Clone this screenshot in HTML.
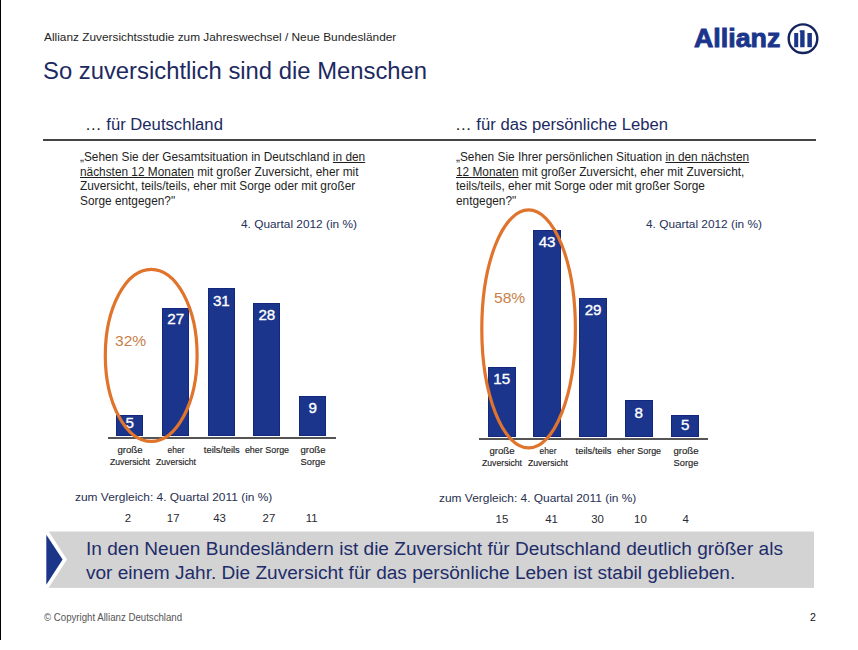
<!DOCTYPE html>
<html lang="de">
<head>
<meta charset="utf-8">
<style>
*{margin:0;padding:0;box-sizing:border-box}
html,body{width:858px;height:650px;overflow:hidden;background:#fff}
body{position:relative;font-family:"Liberation Sans",Arial,sans-serif;color:#222}
.a{position:absolute;white-space:nowrap}
u{text-decoration-thickness:1px;text-underline-offset:0.6px}
</style>
</head>
<body>
<div class="a" style="left:0;top:0;width:1px;height:640px;background:#000"></div>
<div class="a" style="left:44.30px;top:30.91px;font-size:11.4px;line-height:13.68px;color:#1e1e1e;transform:scaleX(1.04);transform-origin:0 0;">Allianz Zuversichtsstudie zum Jahreswechsel / Neue Bundesländer</div>
<div class="a" style="left:42.80px;top:56.96px;font-size:23.5px;line-height:28.2px;color:#1d2a5f;transform:scaleX(1.014);transform-origin:0 0;">So zuversichtlich sind die Menschen</div>
<div class="a" style="left:693.50px;top:22.92px;font-size:26.5px;line-height:31.8px;color:#1b358c;transform:scaleX(1.011);transform-origin:0 0;font-weight:bold;-webkit-text-stroke:0.9px #1b358c;">Allianz</div>
<svg class="a" style="left:786px;top:22px" width="34" height="34" viewBox="0 0 34 34">
  <circle cx="17" cy="16.7" r="14.3" fill="none" stroke="#13245e" stroke-width="2.4"/>
  <rect x="8.2" y="11" width="4" height="14.2" fill="#1b3589"/>
  <path d="M13.7 8.2 H18.6 V25.2 H14.2 V10.2 H13.7 Z" fill="#1b3589"/>
  <rect x="21.4" y="11" width="4.5" height="14.2" fill="#1b3589"/>
</svg>
<div class="a" style="left:84.80px;top:115.75px;font-size:15.8px;line-height:18.96px;color:#1d2a5f;transform:scaleX(1.054);transform-origin:0 0;"><span style="color:#222">…</span> für Deutschland</div>
<div class="a" style="left:455.20px;top:115.75px;font-size:15.8px;line-height:18.96px;color:#1d2a5f;transform:scaleX(1.055);transform-origin:0 0;"><span style="color:#222">…</span> für das persönliche Leben</div>
<div class="a" style="left:43px;top:139px;width:773px;height:2px;background:#444"></div>
<div class="a" style="left:80.00px;top:150.02px;font-size:12.2px;line-height:14.5px;color:#1e1e1e;transform:scaleX(0.972);transform-origin:0 0;">„Sehen Sie der Gesamtsituation in Deutschland <u>in den</u><br><u>nächsten 12 Monaten</u> mit großer Zuversicht, eher mit<br>Zuversicht, teils/teils, eher mit Sorge oder mit großer<br>Sorge entgegen?&quot;</div>
<div class="a" style="left:456.00px;top:150.02px;font-size:12.2px;line-height:14.5px;color:#1e1e1e;transform:scaleX(0.972);transform-origin:0 0;">„Sehen Sie Ihrer persönlichen Situation <u>in den nächsten</u><br><u>12 Monaten</u> mit großer Zuversicht, eher mit Zuversicht,<br>teils/teils, eher mit Sorge oder mit großer Sorge<br>entgegen?&quot;</div>
<div class="a" style="left:241.00px;top:218.32px;font-size:11.5px;line-height:13.8px;color:#25305a;transform:scaleX(1.03);transform-origin:0 0;">4. Quartal 2012 (in %)</div>
<div class="a" style="left:646.00px;top:218.32px;font-size:11.5px;line-height:13.8px;color:#25305a;transform:scaleX(1.03);transform-origin:0 0;">4. Quartal 2012 (in %)</div>
<div class="a" style="left:108px;top:437px;width:228px;height:2px;background:#555"></div>
<div class="a" style="left:116.0px;top:415.0px;width:27.3px;height:20.7px;background:#1b358c;box-shadow:inset 0 0 0 1px #13287a"></div>
<div class="a" style="left:109.65px;top:413.50px;font-size:15.2px;line-height:18.24px;color:#fff;width:40px;text-align:center;-webkit-text-stroke:0.35px #fff;">5</div>
<div class="a" style="left:162.0px;top:307.5px;width:27.3px;height:128.2px;background:#1b358c;box-shadow:inset 0 0 0 1px #13287a"></div>
<div class="a" style="left:155.65px;top:310.30px;font-size:15.2px;line-height:18.24px;color:#fff;width:40px;text-align:center;-webkit-text-stroke:0.35px #fff;">27</div>
<div class="a" style="left:207.7px;top:288.1px;width:27.3px;height:147.6px;background:#1b358c;box-shadow:inset 0 0 0 1px #13287a"></div>
<div class="a" style="left:201.35px;top:291.60px;font-size:15.2px;line-height:18.24px;color:#fff;width:40px;text-align:center;-webkit-text-stroke:0.35px #fff;">31</div>
<div class="a" style="left:253.2px;top:302.9px;width:27.3px;height:132.8px;background:#1b358c;box-shadow:inset 0 0 0 1px #13287a"></div>
<div class="a" style="left:246.85px;top:305.60px;font-size:15.2px;line-height:18.24px;color:#fff;width:40px;text-align:center;-webkit-text-stroke:0.35px #fff;">28</div>
<div class="a" style="left:299.0px;top:395.9px;width:27.3px;height:39.8px;background:#1b358c;box-shadow:inset 0 0 0 1px #13287a"></div>
<div class="a" style="left:292.65px;top:399.00px;font-size:15.2px;line-height:18.24px;color:#fff;width:40px;text-align:center;-webkit-text-stroke:0.35px #fff;">9</div>
<div class="a" style="left:95.15px;top:443.70px;font-size:9.4px;line-height:11.28px;color:#1e1e1e;width:70px;text-align:center;transform:scaleX(1.03);transform-origin:50% 0;-webkit-text-stroke:0.15px #1e1e1e;">große</div>
<div class="a" style="left:95.15px;top:456.00px;font-size:9.4px;line-height:11.28px;color:#1e1e1e;width:70px;text-align:center;transform:scaleX(0.925);transform-origin:50% 0;-webkit-text-stroke:0.15px #1e1e1e;">Zuversicht</div>
<div class="a" style="left:141.15px;top:443.70px;font-size:9.4px;line-height:11.28px;color:#1e1e1e;width:70px;text-align:center;transform:scaleX(0.9);transform-origin:50% 0;-webkit-text-stroke:0.15px #1e1e1e;">eher</div>
<div class="a" style="left:141.15px;top:456.00px;font-size:9.4px;line-height:11.28px;color:#1e1e1e;width:70px;text-align:center;transform:scaleX(0.925);transform-origin:50% 0;-webkit-text-stroke:0.15px #1e1e1e;">Zuversicht</div>
<div class="a" style="left:186.85px;top:443.70px;font-size:9.4px;line-height:11.28px;color:#1e1e1e;width:70px;text-align:center;transform:scaleX(1.0);transform-origin:50% 0;-webkit-text-stroke:0.15px #1e1e1e;">teils/teils</div>
<div class="a" style="left:232.35px;top:443.70px;font-size:9.4px;line-height:11.28px;color:#1e1e1e;width:70px;text-align:center;transform:scaleX(0.952);transform-origin:50% 0;-webkit-text-stroke:0.15px #1e1e1e;">eher Sorge</div>
<div class="a" style="left:278.15px;top:443.70px;font-size:9.4px;line-height:11.28px;color:#1e1e1e;width:70px;text-align:center;transform:scaleX(1.03);transform-origin:50% 0;-webkit-text-stroke:0.15px #1e1e1e;">große</div>
<div class="a" style="left:278.15px;top:456.00px;font-size:9.4px;line-height:11.28px;color:#1e1e1e;width:70px;text-align:center;transform:scaleX(0.99);transform-origin:50% 0;-webkit-text-stroke:0.15px #1e1e1e;">Sorge</div>
<div class="a" style="left:478.5px;top:438px;width:229.5px;height:2px;background:#555"></div>
<div class="a" style="left:488.0px;top:367.2px;width:27.6px;height:69.5px;background:#1b358c;box-shadow:inset 0 0 0 1px #13287a"></div>
<div class="a" style="left:481.80px;top:369.80px;font-size:15.2px;line-height:18.24px;color:#fff;width:40px;text-align:center;-webkit-text-stroke:0.35px #fff;">15</div>
<div class="a" style="left:533.3px;top:230.0px;width:27.6px;height:206.7px;background:#1b358c;box-shadow:inset 0 0 0 1px #13287a"></div>
<div class="a" style="left:527.10px;top:232.80px;font-size:15.2px;line-height:18.24px;color:#fff;width:40px;text-align:center;-webkit-text-stroke:0.35px #fff;">43</div>
<div class="a" style="left:579.3px;top:298.1px;width:27.6px;height:138.6px;background:#1b358c;box-shadow:inset 0 0 0 1px #13287a"></div>
<div class="a" style="left:573.10px;top:301.10px;font-size:15.2px;line-height:18.24px;color:#fff;width:40px;text-align:center;-webkit-text-stroke:0.35px #fff;">29</div>
<div class="a" style="left:625.0px;top:400.2px;width:27.6px;height:36.5px;background:#1b358c;box-shadow:inset 0 0 0 1px #13287a"></div>
<div class="a" style="left:618.80px;top:403.80px;font-size:15.2px;line-height:18.24px;color:#fff;width:40px;text-align:center;-webkit-text-stroke:0.35px #fff;">8</div>
<div class="a" style="left:671.4px;top:415.2px;width:27.6px;height:21.5px;background:#1b358c;box-shadow:inset 0 0 0 1px #13287a"></div>
<div class="a" style="left:665.20px;top:415.90px;font-size:15.2px;line-height:18.24px;color:#fff;width:40px;text-align:center;-webkit-text-stroke:0.35px #fff;">5</div>
<div class="a" style="left:467.30px;top:444.70px;font-size:9.4px;line-height:11.28px;color:#1e1e1e;width:70px;text-align:center;transform:scaleX(1.03);transform-origin:50% 0;-webkit-text-stroke:0.15px #1e1e1e;">große</div>
<div class="a" style="left:467.30px;top:457.00px;font-size:9.4px;line-height:11.28px;color:#1e1e1e;width:70px;text-align:center;transform:scaleX(0.925);transform-origin:50% 0;-webkit-text-stroke:0.15px #1e1e1e;">Zuversicht</div>
<div class="a" style="left:512.60px;top:444.70px;font-size:9.4px;line-height:11.28px;color:#1e1e1e;width:70px;text-align:center;transform:scaleX(0.9);transform-origin:50% 0;-webkit-text-stroke:0.15px #1e1e1e;">eher</div>
<div class="a" style="left:512.60px;top:457.00px;font-size:9.4px;line-height:11.28px;color:#1e1e1e;width:70px;text-align:center;transform:scaleX(0.925);transform-origin:50% 0;-webkit-text-stroke:0.15px #1e1e1e;">Zuversicht</div>
<div class="a" style="left:558.60px;top:444.70px;font-size:9.4px;line-height:11.28px;color:#1e1e1e;width:70px;text-align:center;transform:scaleX(1.0);transform-origin:50% 0;-webkit-text-stroke:0.15px #1e1e1e;">teils/teils</div>
<div class="a" style="left:604.30px;top:444.70px;font-size:9.4px;line-height:11.28px;color:#1e1e1e;width:70px;text-align:center;transform:scaleX(0.952);transform-origin:50% 0;-webkit-text-stroke:0.15px #1e1e1e;">eher Sorge</div>
<div class="a" style="left:650.70px;top:444.70px;font-size:9.4px;line-height:11.28px;color:#1e1e1e;width:70px;text-align:center;transform:scaleX(1.03);transform-origin:50% 0;-webkit-text-stroke:0.15px #1e1e1e;">große</div>
<div class="a" style="left:650.70px;top:457.00px;font-size:9.4px;line-height:11.28px;color:#1e1e1e;width:70px;text-align:center;transform:scaleX(0.99);transform-origin:50% 0;-webkit-text-stroke:0.15px #1e1e1e;">Sorge</div>
<svg class="a" style="left:0;top:0" width="858" height="650">
  <ellipse cx="151.2" cy="355.4" rx="45.9" ry="86" fill="none" stroke="#e0742c" stroke-width="3.2"/>
  <ellipse cx="528.6" cy="328.9" rx="46.8" ry="119" fill="none" stroke="#e0742c" stroke-width="3.2"/>
</svg>
<div class="a" style="left:114.50px;top:331.90px;font-size:15px;line-height:18.0px;color:#c98049;transform:scaleX(1.04);transform-origin:0 0;">32%</div>
<div class="a" style="left:493.60px;top:289.10px;font-size:15px;line-height:18.0px;color:#c98049;transform:scaleX(1.04);transform-origin:0 0;">58%</div>
<div class="a" style="left:74.50px;top:491.20px;font-size:11.2px;line-height:13.44px;color:#283050;transform:scaleX(1.066);transform-origin:0 0;">zum Vergleich: 4. Quartal 2011 (in %)</div>
<div class="a" style="left:439.20px;top:492.40px;font-size:11.2px;line-height:13.44px;color:#283050;transform:scaleX(1.066);transform-origin:0 0;">zum Vergleich: 4. Quartal 2011 (in %)</div>
<div class="a" style="left:113.00px;top:511.61px;font-size:11.4px;line-height:13.68px;color:#2a2a33;width:30px;text-align:center;">2</div>
<div class="a" style="left:158.20px;top:511.61px;font-size:11.4px;line-height:13.68px;color:#2a2a33;width:30px;text-align:center;">17</div>
<div class="a" style="left:204.50px;top:511.61px;font-size:11.4px;line-height:13.68px;color:#2a2a33;width:30px;text-align:center;">43</div>
<div class="a" style="left:253.90px;top:511.61px;font-size:11.4px;line-height:13.68px;color:#2a2a33;width:30px;text-align:center;">27</div>
<div class="a" style="left:296.70px;top:511.61px;font-size:11.4px;line-height:13.68px;color:#2a2a33;width:30px;text-align:center;">11</div>
<div class="a" style="left:486.90px;top:512.81px;font-size:11.4px;line-height:13.68px;color:#2a2a33;width:30px;text-align:center;">15</div>
<div class="a" style="left:536.50px;top:512.81px;font-size:11.4px;line-height:13.68px;color:#2a2a33;width:30px;text-align:center;">41</div>
<div class="a" style="left:582.60px;top:512.81px;font-size:11.4px;line-height:13.68px;color:#2a2a33;width:30px;text-align:center;">30</div>
<div class="a" style="left:625.40px;top:512.81px;font-size:11.4px;line-height:13.68px;color:#2a2a33;width:30px;text-align:center;">10</div>
<div class="a" style="left:670.60px;top:512.81px;font-size:11.4px;line-height:13.68px;color:#2a2a33;width:30px;text-align:center;">4</div>
<svg class="a" style="left:0;top:0" width="858" height="650">
  <rect x="48" y="531.5" width="766" height="56.4" fill="#d3d3d3"/>
  <polygon points="44,531 48.5,531 67,559.5 48.5,588 44,588" fill="#fff"/>
  <polygon points="46.3,534.8 62.6,559.5 46.3,584.7" fill="#1b3589"/>
</svg>
<div class="a" style="left:86.00px;top:538.30px;font-size:17.6px;line-height:23.2px;color:#1e2d6a;transform:scaleX(1.083);transform-origin:0 0;">In den Neuen Bundesländern ist die Zuversicht für Deutschland deutlich größer als<br>vor einem Jahr. Die Zuversicht für das persönliche Leben ist stabil geblieben.</div>
<div class="a" style="left:43.50px;top:611.65px;font-size:10.2px;line-height:12.24px;color:#555;transform:scaleX(0.948);transform-origin:0 0;">© Copyright Allianz Deutschland</div>
<div class="a" style="left:810.00px;top:611.17px;font-size:10.6px;line-height:12.72px;color:#111;">2</div>
</body>
</html>
